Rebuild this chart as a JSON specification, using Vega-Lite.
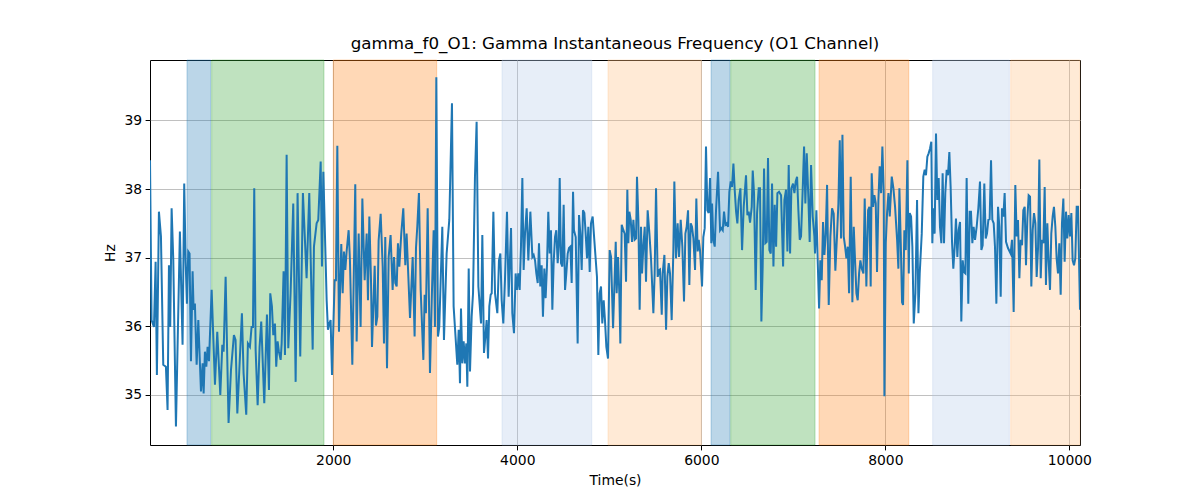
{
  "$schema": "https://vega.github.io/schema/vega-lite/v6.json",
  "width": 930,
  "height": 385,
  "autosize": {"type": "none"},
  "padding": {"left": 150, "top": 60, "right": 120, "bottom": 55},
  "background": "white",
  "title": {"text": "gamma_f0_O1: Gamma Instantaneous Frequency (O1 Channel)", "font": "DejaVu Sans", "fontSize": 16.7, "fontWeight": "normal", "color": "black", "anchor": "middle", "frame": "group", "offset": 7},
  "config": {
    "view": {"stroke": "black", "strokeWidth": 1},
    "axis": {
      "domain": false,
      "labelFont": "DejaVu Sans", "labelFontSize": 13.9, "labelColor": "black",
      "titleFont": "DejaVu Sans", "titleFontSize": 13.9, "titleFontWeight": "normal", "titleColor": "black",
      "tickColor": "black", "tickSize": 4.9, "tickWidth": 1,
      "gridColor": "#b0b0b0", "gridWidth": 0.8
    }
  },
  "datasets": {
    "bands": [
      {"start": 410, "end": 667, "state": "s1"},
      {"start": 678, "end": 1899, "state": "s2"},
      {"start": 2000, "end": 3124, "state": "s3"},
      {"start": 3834, "end": 4809, "state": "s4"},
      {"start": 4986, "end": 6000, "state": "s5"},
      {"start": 6106, "end": 6312, "state": "s1"},
      {"start": 6320, "end": 7236, "state": "s2"},
      {"start": 7280, "end": 8255, "state": "s3"},
      {"start": 8515, "end": 9348, "state": "s4"},
      {"start": 9363, "end": 10116, "state": "s5"}
    ],
    "series": [
{"t":8,"v":38.42},{"t":25,"v":36.09},{"t":51,"v":35.99},{"t":69,"v":36.94},{"t":83,"v":35.29},{"t":105,"v":37.67},{"t":127,"v":37.31},{"t":152,"v":35.44},{"t":181,"v":35.41},{"t":199,"v":34.78},{"t":214,"v":36.89},{"t":228,"v":35.99},{"t":243,"v":37.72},{"t":261,"v":36.97},{"t":290,"v":34.54},{"t":333,"v":37.38},{"t":362,"v":35.73},{"t":380,"v":38.08},{"t":395,"v":36.97},{"t":409,"v":36.33},{"t":424,"v":37.09},{"t":438,"v":37.06},{"t":453,"v":35.49},{"t":471,"v":36.8},{"t":482,"v":36.24},{"t":496,"v":36.33},{"t":515,"v":35.44},{"t":533,"v":36.09},{"t":562,"v":35.05},{"t":580,"v":35.46},{"t":591,"v":35.02},{"t":605,"v":35.63},{"t":620,"v":35.41},{"t":634,"v":35.7},{"t":649,"v":35.49},{"t":678,"v":36.53},{"t":714,"v":35.15},{"t":739,"v":35.92},{"t":772,"v":35.0},{"t":794,"v":35.73},{"t":808,"v":35.63},{"t":830,"v":36.72},{"t":862,"v":34.59},{"t":888,"v":35.36},{"t":920,"v":35.87},{"t":938,"v":35.8},{"t":957,"v":34.73},{"t":978,"v":35.34},{"t":1007,"v":36.19},{"t":1025,"v":35.32},{"t":1054,"v":34.71},{"t":1072,"v":35.75},{"t":1094,"v":35.7},{"t":1112,"v":35.99},{"t":1127,"v":35.99},{"t":1141,"v":38.01},{"t":1156,"v":35.66},{"t":1178,"v":34.85},{"t":1199,"v":35.7},{"t":1217,"v":36.07},{"t":1250,"v":34.88},{"t":1279,"v":36.17},{"t":1301,"v":35.07},{"t":1315,"v":36.48},{"t":1333,"v":36.29},{"t":1348,"v":35.87},{"t":1366,"v":36.04},{"t":1380,"v":35.41},{"t":1395,"v":35.78},{"t":1409,"v":35.63},{"t":1428,"v":35.51},{"t":1439,"v":35.75},{"t":1460,"v":36.8},{"t":1475,"v":35.58},{"t":1493,"v":38.5},{"t":1511,"v":35.68},{"t":1536,"v":36.48},{"t":1565,"v":37.79},{"t":1591,"v":35.19},{"t":1612,"v":37.94},{"t":1641,"v":35.56},{"t":1670,"v":37.94},
{"t":1710,"v":36.7},{"t":1739,"v":37.94},{"t":1776,"v":35.66},{"t":1790,"v":37.16},{"t":1819,"v":37.5},{"t":1837,"v":37.55},{"t":1863,"v":38.4},{"t":1877,"v":36.87},{"t":1892,"v":38.25},{"t":1913,"v":37.16},{"t":1928,"v":36.38},{"t":1942,"v":35.95},{"t":1957,"v":36.04},{"t":1971,"v":36.09},{"t":1986,"v":35.29},{"t":2015,"v":36.67},{"t":2029,"v":36.67},{"t":2044,"v":38.63},{"t":2062,"v":35.92},{"t":2087,"v":37.2},{"t":2102,"v":36.48},{"t":2116,"v":37.09},{"t":2131,"v":36.82},{"t":2145,"v":37.09},{"t":2167,"v":37.4},{"t":2181,"v":36.97},{"t":2207,"v":35.44},{"t":2239,"v":38.07},{"t":2254,"v":35.78},{"t":2276,"v":37.35},{"t":2297,"v":35.99},{"t":2316,"v":37.86},{"t":2341,"v":36.67},{"t":2363,"v":37.35},{"t":2377,"v":36.38},{"t":2392,"v":37.6},{"t":2410,"v":36.67},{"t":2421,"v":35.7},{"t":2450,"v":36.88},{"t":2464,"v":36.01},{"t":2479,"v":36.14},{"t":2493,"v":37.25},{"t":2515,"v":37.64},{"t":2537,"v":36.87},{"t":2551,"v":35.75},{"t":2565,"v":37.3},{"t":2584,"v":35.39},{"t":2602,"v":37.01},{"t":2623,"v":37.33},{"t":2645,"v":36.53},{"t":2660,"v":37.01},{"t":2674,"v":36.63},{"t":2689,"v":36.58},{"t":2703,"v":37.21},{"t":2718,"v":36.87},{"t":2739,"v":37.35},{"t":2761,"v":37.72},{"t":2783,"v":36.89},{"t":2797,"v":37.35},{"t":2834,"v":36.12},{"t":2863,"v":37.01},{"t":2884,"v":35.85},{"t":2899,"v":37.14},{"t":2913,"v":37.45},{"t":2931,"v":37.94},{"t":2950,"v":36.53},{"t":2979,"v":35.51},{"t":2993,"v":36.46},{"t":3007,"v":36.19},{"t":3026,"v":37.72},{"t":3051,"v":35.32},{"t":3073,"v":36.53},{"t":3091,"v":37.4},{"t":3105,"v":35.99},{"t":3120,"v":39.63},{"t":3138,"v":35.85},{"t":3152,"v":35.99},{"t":3185,"v":37.45},{"t":3203,"v":35.8},{"t":3232,"v":37.06},{"t":3261,"v":37.55},{"t":3290,"v":39.25},{"t":3308,"v":36.29},{"t":3348,"v":35.44},{"t":3363,"v":35.95},{"t":3377,"v":35.17},
{"t":3388,"v":36.26},{"t":3403,"v":35.46},{"t":3417,"v":35.78},{"t":3432,"v":35.46},{"t":3446,"v":35.75},{"t":3457,"v":35.12},{"t":3472,"v":36.84},{"t":3486,"v":35.34},{"t":3504,"v":36.14},{"t":3519,"v":36.48},{"t":3540,"v":38.18},{"t":3558,"v":38.98},{"t":3577,"v":36.58},{"t":3606,"v":36.04},{"t":3620,"v":37.33},{"t":3638,"v":35.61},{"t":3656,"v":35.9},{"t":3667,"v":36.09},{"t":3682,"v":35.53},{"t":3696,"v":36.29},{"t":3711,"v":36.46},{"t":3722,"v":36.48},{"t":3740,"v":37.67},{"t":3758,"v":36.48},{"t":3783,"v":36.19},{"t":3801,"v":36.96},{"t":3816,"v":37.06},{"t":3830,"v":36.38},{"t":3848,"v":36.04},{"t":3866,"v":36.67},{"t":3888,"v":37.67},{"t":3906,"v":36.43},{"t":3932,"v":37.43},{"t":3946,"v":36.19},{"t":3964,"v":35.9},{"t":3982,"v":36.77},{"t":3997,"v":36.53},{"t":4011,"v":36.77},{"t":4026,"v":36.53},{"t":4040,"v":37.16},{"t":4055,"v":38.16},{"t":4069,"v":36.82},{"t":4084,"v":37.35},{"t":4102,"v":37.72},{"t":4120,"v":36.96},{"t":4142,"v":37.67},{"t":4164,"v":37.01},{"t":4178,"v":37.04},{"t":4193,"v":36.96},{"t":4207,"v":36.77},{"t":4222,"v":36.63},{"t":4236,"v":37.21},{"t":4250,"v":36.58},{"t":4265,"v":36.89},{"t":4279,"v":36.14},{"t":4294,"v":36.84},{"t":4308,"v":36.41},{"t":4323,"v":36.89},{"t":4337,"v":37.67},{"t":4352,"v":37.06},{"t":4366,"v":37.4},{"t":4381,"v":36.24},{"t":4395,"v":36.92},{"t":4410,"v":37.3},{"t":4424,"v":37.4},{"t":4439,"v":36.92},{"t":4450,"v":37.16},{"t":4461,"v":38.16},{"t":4475,"v":36.92},{"t":4490,"v":36.87},{"t":4504,"v":37.77},{"t":4519,"v":36.53},{"t":4533,"v":36.77},{"t":4548,"v":37.06},{"t":4562,"v":37.14},{"t":4577,"v":37.16},{"t":4591,"v":36.63},{"t":4606,"v":37.96},{"t":4616,"v":37.4},{"t":4635,"v":37.3},{"t":4656,"v":35.75},{"t":4671,"v":37.62},{"t":4685,"v":37.35},{"t":4700,"v":36.82},{"t":4714,"v":37.69},{"t":4729,"v":37.65},{"t":4743,"v":37.35},{"t":4758,"v":36.99},{"t":4772,"v":37.45},{"t":4787,"v":36.79},{"t":4801,"v":37.5},{"t":4819,"v":37.6},{"t":4845,"v":37.11},{"t":4866,"v":36.72},{"t":4881,"v":35.58},{"t":4895,"v":36.48},{"t":4910,"v":36.58},{"t":4924,"v":36.04},{"t":4939,"v":36.38},{"t":4953,"v":36.09},{"t":4968,"v":35.7},{"t":4986,"v":35.53},{"t":5004,"v":37.11},{"t":5019,"v":37.01},
{"t":5041,"v":35.97},{"t":5070,"v":37.23},{"t":5080,"v":36.48},{"t":5095,"v":37.01},{"t":5109,"v":36.48},{"t":5120,"v":35.75},{"t":5135,"v":37.48},{"t":5153,"v":37.4},{"t":5167,"v":37.35},{"t":5182,"v":36.65},{"t":5196,"v":37.99},{"t":5207,"v":37.21},{"t":5218,"v":37.67},{"t":5233,"v":37.55},{"t":5247,"v":37.23},{"t":5262,"v":37.55},{"t":5276,"v":37.26},{"t":5291,"v":37.28},{"t":5301,"v":38.18},{"t":5316,"v":37.55},{"t":5330,"v":36.24},{"t":5345,"v":37.45},{"t":5356,"v":36.77},{"t":5370,"v":37.16},{"t":5385,"v":37.45},{"t":5399,"v":36.65},{"t":5417,"v":37.69},{"t":5436,"v":37.35},{"t":5454,"v":36.97},{"t":5479,"v":36.19},{"t":5493,"v":36.77},{"t":5508,"v":38.01},{"t":5526,"v":36.72},{"t":5541,"v":36.82},{"t":5551,"v":36.83},{"t":5570,"v":36.17},{"t":5580,"v":36.77},{"t":5599,"v":37.04},{"t":5617,"v":35.95},{"t":5631,"v":36.72},{"t":5646,"v":36.92},{"t":5660,"v":36.77},{"t":5678,"v":36.09},{"t":5696,"v":37.09},{"t":5707,"v":38.11},{"t":5725,"v":36.99},{"t":5743,"v":37.5},{"t":5758,"v":37.01},{"t":5776,"v":37.55},{"t":5794,"v":37.16},{"t":5812,"v":36.36},{"t":5827,"v":37.35},{"t":5841,"v":37.45},{"t":5856,"v":37.69},{"t":5870,"v":36.6},{"t":5885,"v":37.5},{"t":5899,"v":37.45},{"t":5914,"v":37.28},{"t":5932,"v":36.82},{"t":5946,"v":37.86},{"t":5961,"v":37.09},{"t":5972,"v":37.26},{"t":5986,"v":37.11},{"t":6008,"v":36.58},{"t":6022,"v":37.3},{"t":6037,"v":37.43},{"t":6051,"v":38.62},{"t":6066,"v":37.69},{"t":6080,"v":37.65},{"t":6095,"v":38.16},{"t":6109,"v":37.21},{"t":6117,"v":37.79},{"t":6131,"v":37.26},{"t":6146,"v":37.16},{"t":6160,"v":37.69},{"t":6182,"v":38.25},{"t":6204,"v":37.4},{"t":6218,"v":37.43},{"t":6233,"v":37.4},{"t":6247,"v":37.67},{"t":6262,"v":37.48},{"t":6276,"v":37.5},{"t":6291,"v":37.45},{"t":6305,"v":37.96},{"t":6320,"v":38.11},{"t":6334,"v":38.03},{"t":6349,"v":38.37},{"t":6363,"v":37.99},{"t":6378,"v":37.67},{"t":6392,"v":37.5},{"t":6406,"v":37.84},{"t":6425,"v":38.01},{"t":6443,"v":37.11},{"t":6461,"v":37.74},{"t":6486,"v":38.2},{"t":6501,"v":37.62},{"t":6515,"v":37.67},{"t":6530,"v":37.51},{"t":6548,"v":37.74},{"t":6559,"v":38.27},{"t":6573,"v":37.94},{"t":6591,"v":36.53},{"t":6606,"v":37.65},{"t":6624,"v":38.01},{"t":6638,"v":38.01},{"t":6653,"v":36.07},{"t":6667,"v":36.87},{"t":6682,"v":38.3},{"t":6696,"v":37.21},{"t":6711,"v":37.23},{"t":6725,"v":38.45},{"t":6740,"v":37.11},
{"t":6755,"v":37.06},{"t":6769,"v":38.08},{"t":6784,"v":36.87},{"t":6798,"v":37.77},{"t":6813,"v":37.16},{"t":6827,"v":37.94},{"t":6845,"v":37.96},{"t":6867,"v":37.91},{"t":6889,"v":36.87},{"t":6903,"v":37.84},{"t":6921,"v":37.99},{"t":6936,"v":37.09},{"t":6950,"v":38.35},{"t":6965,"v":37.06},{"t":6979,"v":38.01},{"t":6997,"v":38.08},{"t":7012,"v":37.94},{"t":7026,"v":38.11},{"t":7041,"v":38.18},{"t":7055,"v":37.69},{"t":7070,"v":37.26},{"t":7084,"v":37.31},{"t":7102,"v":37.99},{"t":7117,"v":38.62},{"t":7131,"v":37.79},{"t":7146,"v":38.52},{"t":7164,"v":37.86},{"t":7178,"v":37.23},{"t":7193,"v":38.35},{"t":7211,"v":37.6},{"t":7229,"v":37.31},{"t":7236,"v":37.06},{"t":7251,"v":37.69},{"t":7265,"v":36.96},{"t":7280,"v":36.26},{"t":7294,"v":36.96},{"t":7309,"v":36.67},{"t":7323,"v":37.52},{"t":7338,"v":37.04},{"t":7352,"v":37.33},{"t":7367,"v":38.06},{"t":7385,"v":36.31},{"t":7403,"v":37.31},{"t":7421,"v":37.72},{"t":7439,"v":37.64},{"t":7457,"v":36.81},{"t":7476,"v":37.35},{"t":7490,"v":37.79},{"t":7505,"v":38.71},{"t":7519,"v":37.28},{"t":7534,"v":38.79},{"t":7548,"v":37.31},{"t":7563,"v":37.16},{"t":7577,"v":36.99},{"t":7592,"v":37.16},{"t":7606,"v":36.48},{"t":7624,"v":38.18},{"t":7642,"v":36.35},{"t":7657,"v":37.45},{"t":7671,"v":36.96},{"t":7686,"v":36.48},{"t":7700,"v":36.38},{"t":7715,"v":36.77},{"t":7729,"v":36.96},{"t":7744,"v":36.84},{"t":7762,"v":36.77},{"t":7776,"v":37.86},{"t":7794,"v":36.58},{"t":7813,"v":37.69},{"t":7827,"v":37.74},{"t":7841,"v":36.58},{"t":7852,"v":38.23},{"t":7867,"v":37.74},{"t":7881,"v":37.91},{"t":7896,"v":37.79},{"t":7910,"v":36.79},{"t":7925,"v":37.84},{"t":7939,"v":38.33},{"t":7954,"v":37.94},{"t":7968,"v":38.62},{"t":7983,"v":37.94},{"t":7990,"v":34.98},{"t":8005,"v":37.21},{"t":8019,"v":37.65},{"t":8034,"v":37.94},{"t":8048,"v":37.6},{"t":8070,"v":38.18},{"t":8088,"v":38.01},{"t":8106,"v":37.74},{"t":8128,"v":37.26},{"t":8142,"v":36.84},{"t":8153,"v":38.01},{"t":8168,"v":37.21},{"t":8182,"v":36.35},{"t":8193,"v":36.31},{"t":8207,"v":37.4},{"t":8222,"v":37.11},{"t":8240,"v":38.42},{"t":8255,"v":36.77},{"t":8265,"v":37.65},{"t":8280,"v":37.6},{"t":8294,"v":37.16},{"t":8309,"v":36.04},{"t":8327,"v":36.48},{"t":8345,"v":37.84},{"t":8360,"v":36.19},{"t":8374,"v":36.77},{"t":8396,"v":37.35},
{"t":8413,"v":38.18},{"t":8428,"v":38.28},{"t":8442,"v":38.2},{"t":8457,"v":38.47},{"t":8471,"v":38.52},{"t":8486,"v":38.59},{"t":8500,"v":38.69},{"t":8511,"v":37.21},{"t":8522,"v":37.72},{"t":8536,"v":37.35},{"t":8551,"v":38.81},{"t":8565,"v":37.84},{"t":8580,"v":38.16},{"t":8594,"v":37.45},{"t":8609,"v":37.21},{"t":8623,"v":38.23},{"t":8638,"v":37.21},{"t":8652,"v":37.94},{"t":8667,"v":38.28},{"t":8681,"v":38.2},{"t":8696,"v":38.54},{"t":8710,"v":38.03},{"t":8725,"v":37.23},{"t":8739,"v":36.84},{"t":8754,"v":37.16},{"t":8768,"v":37.57},{"t":8783,"v":37.01},{"t":8797,"v":37.4},{"t":8812,"v":37.52},{"t":8826,"v":36.07},{"t":8841,"v":36.96},{"t":8855,"v":36.79},{"t":8870,"v":36.77},{"t":8884,"v":38.16},{"t":8902,"v":36.33},{"t":8917,"v":37.67},{"t":8931,"v":37.67},{"t":8946,"v":37.21},{"t":8960,"v":37.45},{"t":8975,"v":37.26},{"t":8993,"v":37.45},{"t":9011,"v":37.72},{"t":9029,"v":38.11},{"t":9044,"v":37.11},{"t":9058,"v":37.18},{"t":9076,"v":38.08},{"t":9091,"v":37.28},{"t":9105,"v":37.35},{"t":9120,"v":37.55},{"t":9134,"v":37.56},{"t":9149,"v":38.42},{"t":9163,"v":37.55},{"t":9178,"v":37.5},{"t":9192,"v":37.16},{"t":9207,"v":36.33},{"t":9225,"v":37.74},{"t":9239,"v":37.45},{"t":9254,"v":36.43},{"t":9268,"v":37.72},{"t":9283,"v":37.6},{"t":9297,"v":37.94},{"t":9312,"v":37.23},{"t":9333,"v":37.14},{"t":9362,"v":37.06},{"t":9377,"v":37.26},{"t":9395,"v":36.21},{"t":9413,"v":38.06},{"t":9428,"v":37.31},{"t":9442,"v":37.55},{"t":9457,"v":36.7},{"t":9471,"v":37.26},{"t":9486,"v":37.18},{"t":9500,"v":37.69},{"t":9515,"v":37.74},{"t":9529,"v":36.89},{"t":9544,"v":37.57},{"t":9558,"v":37.91},{"t":9573,"v":37.89},{"t":9587,"v":36.58},{"t":9602,"v":37.4},{"t":9616,"v":37.65},{"t":9631,"v":37.5},{"t":9645,"v":36.72},{"t":9660,"v":37.14},{"t":9674,"v":38.43},{"t":9689,"v":36.7},{"t":9703,"v":37.26},{"t":9718,"v":37.21},{"t":9732,"v":38.03},{"t":9746,"v":36.6},{"t":9761,"v":37.5},{"t":9775,"v":36.96},{"t":9790,"v":36.53},{"t":9804,"v":37.35},{"t":9819,"v":37.6},{"t":9833,"v":37.74},{"t":9848,"v":37.45},{"t":9862,"v":36.99},{"t":9877,"v":36.77},{"t":9891,"v":37.21},{"t":9906,"v":36.46},{"t":9920,"v":37.5},{"t":9935,"v":37.86},{"t":9949,"v":36.94},{"t":9964,"v":37.67},{"t":9978,"v":37.28},{"t":9993,"v":37.62},{"t":10007,"v":37.31},{"t":10022,"v":37.65},{"t":10036,"v":36.96},{"t":10051,"v":36.89},{"t":10065,"v":36.99},{"t":10080,"v":37.74},{"t":10094,"v":37.74},{"t":10116,"v":36.24}
    ]
  },
  "layer": [
    {
      "data": {"name": "bands"},
      "mark": {"type": "rect", "fillOpacity": 0.3, "strokeOpacity": 0.3, "strokeWidth": 1},
      "encoding": {
        "x": {"field": "start", "type": "quantitative", "scale": {"domain": [8, 10116], "nice": false, "zero": false},
              "axis": {"title": "Time(s)", "values": [2000, 4000, 6000, 8000, 10000], "format": "d", "labelPadding": 3.5, "titlePadding": 6, "grid": true}},
        "x2": {"field": "end"},
        "color": {"field": "state", "type": "nominal", "legend": null,
                  "scale": {"domain": ["s1", "s2", "s3", "s4", "s5"], "range": ["#1f77b4", "#2ca02c", "#ff7f0e", "#aec7e8", "#ffbb78"]}},
        "stroke": {"field": "state", "type": "nominal", "legend": null,
                  "scale": {"domain": ["s1", "s2", "s3", "s4", "s5"], "range": ["#1f77b4", "#2ca02c", "#ff7f0e", "#aec7e8", "#ffbb78"]}}
      }
    },
    {
      "data": {"name": "series"},
      "mark": {"type": "line", "color": "#1f77b4", "strokeWidth": 2, "clip": true},
      "encoding": {
        "x": {"field": "t", "type": "quantitative"},
        "y": {"field": "v", "type": "quantitative", "scale": {"domain": [34.27, 39.88], "nice": false, "zero": false},
              "axis": {"title": "Hz", "values": [35, 36, 37, 38, 39], "labelPadding": 3.5, "titlePadding": 6, "grid": true}}
      }
    }
  ]
}
